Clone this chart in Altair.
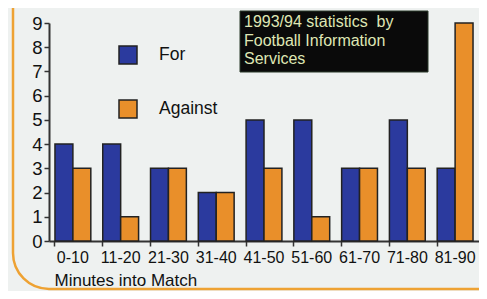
import altair as alt
import pandas as pd

categories = ["0-10", "11-20", "21-30", "31-40", "41-50", "51-60", "61-70", "71-80", "81-90"]
goals_for = [4, 4, 3, 2, 5, 5, 3, 5, 3]
goals_against = [3, 1, 3, 2, 3, 1, 3, 3, 9]
series = ["For", "Against"]
note_lines = ["1993/94 statistics\u00a0\u00a0by", "Football Information", "Services"]
x_title = "Minutes into Match"

rows = []
for c, f, a in zip(categories, goals_for, goals_against):
    rows.append({"period": c, "series": "For", "goals": f})
    rows.append({"period": c, "series": "Against", "goals": a})
df = pd.DataFrame(rows)

FONT = "Liberation Sans"
BLUE = "#2b3a9e"
ORANGE = "#e98f2a"
BG = "#eef1f0"

# decorative frame: only the left edge, rounded bottom-left corner and bottom edge are stroked
frame = alt.Chart(alt.Data(values=[{}])).mark_rect(
    fill=BG, fillOpacity=0, stroke="#eea233", strokeWidth=2.5,
    cornerRadiusBottomLeft=36, strokeDash=[0, 762, 2000]
).encode(
    x=alt.value(-36), x2=alt.value(430), y=alt.value(-30), y2=alt.value(266)
)

bars = alt.Chart(df).mark_bar(stroke="#222222", strokeWidth=1.5).encode(
    x=alt.X(
        "period:N",
        sort=categories,
        scale=alt.Scale(paddingInner=0.25, paddingOuter=0.125),
        axis=alt.Axis(
            title=x_title,
            labelAngle=0,
            labelFont=FONT,
            labelFontSize=16,
            labelColor="#111111",
            labelPadding=3,
            tickSize=5,
            tickWidth=1.5,
            tickColor="#333333",
            bandPosition=0,
            domainColor="#333333",
            domainWidth=2,
            titleFont=FONT,
            titleFontSize=17,
            titleFontWeight="normal",
            titleColor="#111111",
            titleAnchor="start",
            titleAlign="left",
            titleBaseline="alphabetic",
            titleX=5,
            titleY=44,
        ),
    ),
    xOffset=alt.XOffset("series:N", sort=series, scale=alt.Scale(paddingInner=0, paddingOuter=0)),
    y=alt.Y(
        "goals:Q",
        scale=alt.Scale(domain=[0, 9], nice=False),
        axis=alt.Axis(
            title=None,
            values=list(range(10)),
            grid=False,
            labelFont=FONT,
            labelFontSize=18.5,
            labelColor="#111111",
            labelPadding=2,
            tickSize=5,
            tickWidth=1.5,
            tickColor="#333333",
            domainColor="#333333",
            domainWidth=2,
        ),
    ),
    color=alt.Color(
        "series:N",
        sort=series,
        scale=alt.Scale(domain=series, range=[BLUE, ORANGE]),
        legend=alt.Legend(
            title=None,
            orient="none",
            legendX=69,
            legendY=22,
            symbolType="square",
            symbolSize=324,
            symbolStrokeColor="#222222",
            symbolStrokeWidth=1.5,
            symbolOpacity=1,
            labelFont=FONT,
            labelFontSize=17.5,
            labelColor="#111111",
            labelOffset=21,
            rowPadding=30,
            padding=0,
        ),
    ),
)

box = alt.Chart(alt.Data(values=[{}])).mark_rect(fill="#0a0a0a", stroke="#2a3a2a", strokeWidth=1).encode(
    x=alt.value(191), x2=alt.value(379), y=alt.value(-12), y2=alt.value(49)
)

note = alt.Chart(alt.Data(values=[{}])).mark_text(
    align="left", baseline="alphabetic", font=FONT, fontSize=16, lineHeight=18.5, color="#dfe6b4"
).encode(
    x=alt.value(195), y=alt.value(4), text=alt.value(note_lines)
)

chart = alt.layer(frame, bars, box, note).properties(
    width=430,
    height=218,
    background=BG,
    autosize=alt.AutoSizeParams(type="none"),
    padding={"left": 41, "top": 15, "right": 0, "bottom": 50},
).configure_view(stroke=None)

chart.save("out.html", embed_options={"renderer": "svg", "actions": False})
